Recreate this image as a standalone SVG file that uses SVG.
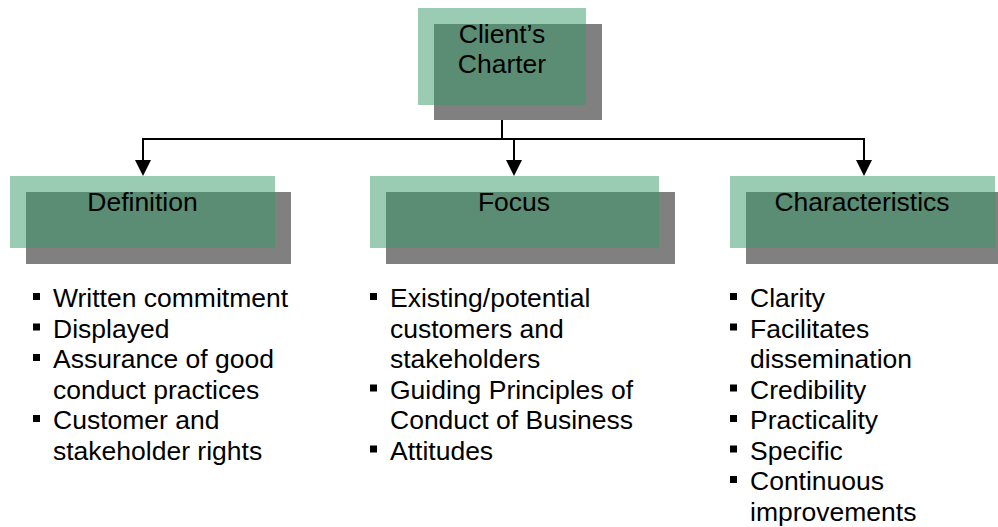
<svg xmlns="http://www.w3.org/2000/svg" width="998" height="527" viewBox="0 0 998 527">
<style>
.shadow{fill:#808080}
.box{fill:#339966;fill-opacity:0.5}
.title{font-family:"Liberation Sans",Arial,sans-serif;font-size:26.5px;fill:#000;text-anchor:middle}
.item{font-family:"Liberation Sans",Arial,sans-serif;font-size:26.5px;fill:#000}
.bullet{fill:#000}
.conn{stroke:#000;stroke-width:2;fill:none}
</style>
<defs>
<marker id="arrow" viewBox="0 0 16 16" refX="0" refY="8" markerWidth="16" markerHeight="16" markerUnits="userSpaceOnUse" orient="auto">
<path d="M0,0 L16,8 L0,16 z" fill="#000"/>
</marker>
<rect id="b" width="7" height="7"/>
</defs>
<rect width="998" height="527" fill="#fff"/>

<g id="connectors">
<line class="conn" x1="502" y1="105" x2="502" y2="139"/>
<line class="conn" x1="142" y1="139" x2="865" y2="139"/>
<line class="conn" x1="143" y1="139" x2="143" y2="160" marker-end="url(#arrow)"/>
<line class="conn" x1="514" y1="139" x2="514" y2="160" marker-end="url(#arrow)"/>
<line class="conn" x1="864" y1="139" x2="864" y2="160" marker-end="url(#arrow)"/>
</g>

<g id="client-charter">
<rect class="shadow" x="434" y="24" width="168" height="96"/>
<rect class="box" x="418" y="8" width="168" height="97"/>
<text class="title" x="502" y="43">Client’s</text>
<text class="title" x="502" y="73">Charter</text>
</g>

<g id="definition">
<rect class="shadow" x="26" y="192" width="265" height="72"/>
<rect class="box" x="10" y="176" width="265" height="72"/>
<text class="title" x="142.5" y="211">Definition</text>
</g>

<g id="focus">
<rect class="shadow" x="386" y="192" width="289" height="72"/>
<rect class="box" x="370" y="176" width="289" height="72"/>
<text class="title" x="514" y="211">Focus</text>
</g>

<g id="characteristics">
<rect class="shadow" x="746" y="192" width="265" height="72"/>
<rect class="box" x="730" y="176" width="265" height="72"/>
<text class="title" x="862" y="211">Characteristics</text>
</g>

<g id="definition-list">
<use href="#b" class="bullet" x="33" y="293"/>
<text class="item" x="53" y="307">Written commitment</text>
<use href="#b" class="bullet" x="33" y="323.5"/>
<text class="item" x="53" y="337.5">Displayed</text>
<use href="#b" class="bullet" x="33" y="354"/>
<text class="item" x="53" y="368">Assurance of good</text>
<text class="item" x="53" y="398.5">conduct practices</text>
<use href="#b" class="bullet" x="33" y="415"/>
<text class="item" x="53" y="429">Customer and</text>
<text class="item" x="53" y="459.5">stakeholder rights</text>
</g>

<g id="focus-list">
<use href="#b" class="bullet" x="370" y="293"/>
<text class="item" x="390" y="307">Existing/potential</text>
<text class="item" x="390" y="337.5">customers and</text>
<text class="item" x="390" y="368">stakeholders</text>
<use href="#b" class="bullet" x="370" y="384.5"/>
<text class="item" x="390" y="398.5">Guiding Principles of</text>
<text class="item" x="390" y="429">Conduct of Business</text>
<use href="#b" class="bullet" x="370" y="445.5"/>
<text class="item" x="390" y="459.5">Attitudes</text>
</g>

<g id="characteristics-list">
<use href="#b" class="bullet" x="730" y="293"/>
<text class="item" x="750" y="307">Clarity</text>
<use href="#b" class="bullet" x="730" y="323.5"/>
<text class="item" x="750" y="337.5">Facilitates</text>
<text class="item" x="750" y="368">dissemination</text>
<use href="#b" class="bullet" x="730" y="384.5"/>
<text class="item" x="750" y="398.5">Credibility</text>
<use href="#b" class="bullet" x="730" y="415"/>
<text class="item" x="750" y="429">Practicality</text>
<use href="#b" class="bullet" x="730" y="445.5"/>
<text class="item" x="750" y="459.5">Specific</text>
<use href="#b" class="bullet" x="730" y="476"/>
<text class="item" x="750" y="490">Continuous</text>
<text class="item" x="750" y="520.5">improvements</text>
</g>
</svg>
